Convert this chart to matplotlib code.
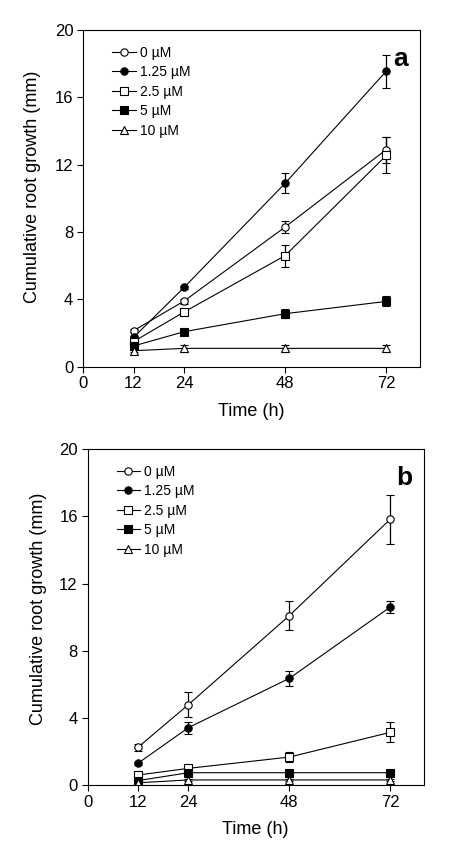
import numpy as np
import matplotlib.pyplot as plt

plt.rcParams['font.family'] = ['Liberation Sans', 'DejaVu Sans']

time = [12, 24, 48, 72]
labels = ['0 \u00b5M', '1.25 \u00b5M', '2.5 \u00b5M', '5 \u00b5M', '10 \u00b5M']

# panel a
a_mean = [
    [2.14, 3.9, 8.3, 12.9],
    [1.74, 4.71, 10.9, 17.56],
    [1.49, 3.25, 6.6, 12.55],
    [1.23, 2.08, 3.15, 3.88],
    [0.95, 1.09, 1.09, 1.09],
]
a_err = [
    [0.1, 0.15, 0.34, 0.77],
    [0.1, 0.1, 0.6, 0.98],
    [0.1, 0.15, 0.65, 1.07],
    [0.1, 0.1, 0.25, 0.3],
    [0.1, 0.2, 0.2, 0.2],
]

# panel b
b_mean = [
    [2.26, 4.8, 10.09, 15.82],
    [1.31, 3.43, 6.36, 10.6],
    [0.61, 1.01, 1.68, 3.15],
    [0.28, 0.75, 0.75, 0.75],
    [0.15, 0.32, 0.32, 0.32],
]
b_err = [
    [0.2, 0.73, 0.87, 1.45],
    [0.1, 0.35, 0.45, 0.38],
    [0.05, 0.1, 0.3, 0.6],
    [0.05, 0.05, 0.05, 0.05],
    [0.05, 0.05, 0.05, 0.05],
]

markers = ['o', 'o', 's', 's', '^']
faces = ['white', 'black', 'white', 'black', 'white']

fig = plt.figure(figsize=(4.72, 8.58), dpi=100)
ax_a = fig.add_axes([0.1758, 0.5726, 0.714, 0.3924])
ax_b = fig.add_axes([0.1854, 0.0847, 0.7126, 0.392])


def draw(ax, means, errs, tag):
    for m, e, mk, fc, lab in zip(means, errs, markers, faces, labels):
        ax.errorbar(time, m, yerr=e, marker=mk, mfc=fc, mec='black', color='black',
                    ms=5.3 if mk != '^' else 6, lw=0.8, elinewidth=0.9, capsize=3,
                    capthick=0.9, mew=0.8, label=lab)
    ax.set_xlim(0, 80)
    ax.set_ylim(0, 20)
    ax.set_xticks([0, 12, 24, 48, 72])
    ax.set_yticks([0, 4, 8, 12, 16, 20])
    ax.tick_params(direction='out', length=4, width=0.8, labelsize=12, pad=3,
                   top=False, right=False)
    for s in ax.spines.values():
        s.set_linewidth(0.8)
    ax.set_xlabel('Time (h)', fontsize=13, labelpad=8)
    ax.set_ylabel('Cumulative root growth (mm)', fontsize=13)
    ax.text(0.965, 0.95, tag, transform=ax.transAxes, ha='right', va='top',
            fontsize=19, fontweight='bold')
    h, l = ax.get_legend_handles_labels()
    h = [x[0] for x in h]
    ax.legend(h, l, loc='upper left', bbox_to_anchor=(0.07, 0.97), frameon=False,
              fontsize=10, handlelength=1.7, handletextpad=0.3, labelspacing=0.4,
              borderaxespad=0)


draw(ax_a, a_mean, a_err, 'a')
draw(ax_b, b_mean, b_err, 'b')
ax_a.yaxis.set_label_coords(-0.125, 0.533)
ax_b.yaxis.set_label_coords(-0.12, 0.524)

fig.savefig('out.png', dpi=100)
